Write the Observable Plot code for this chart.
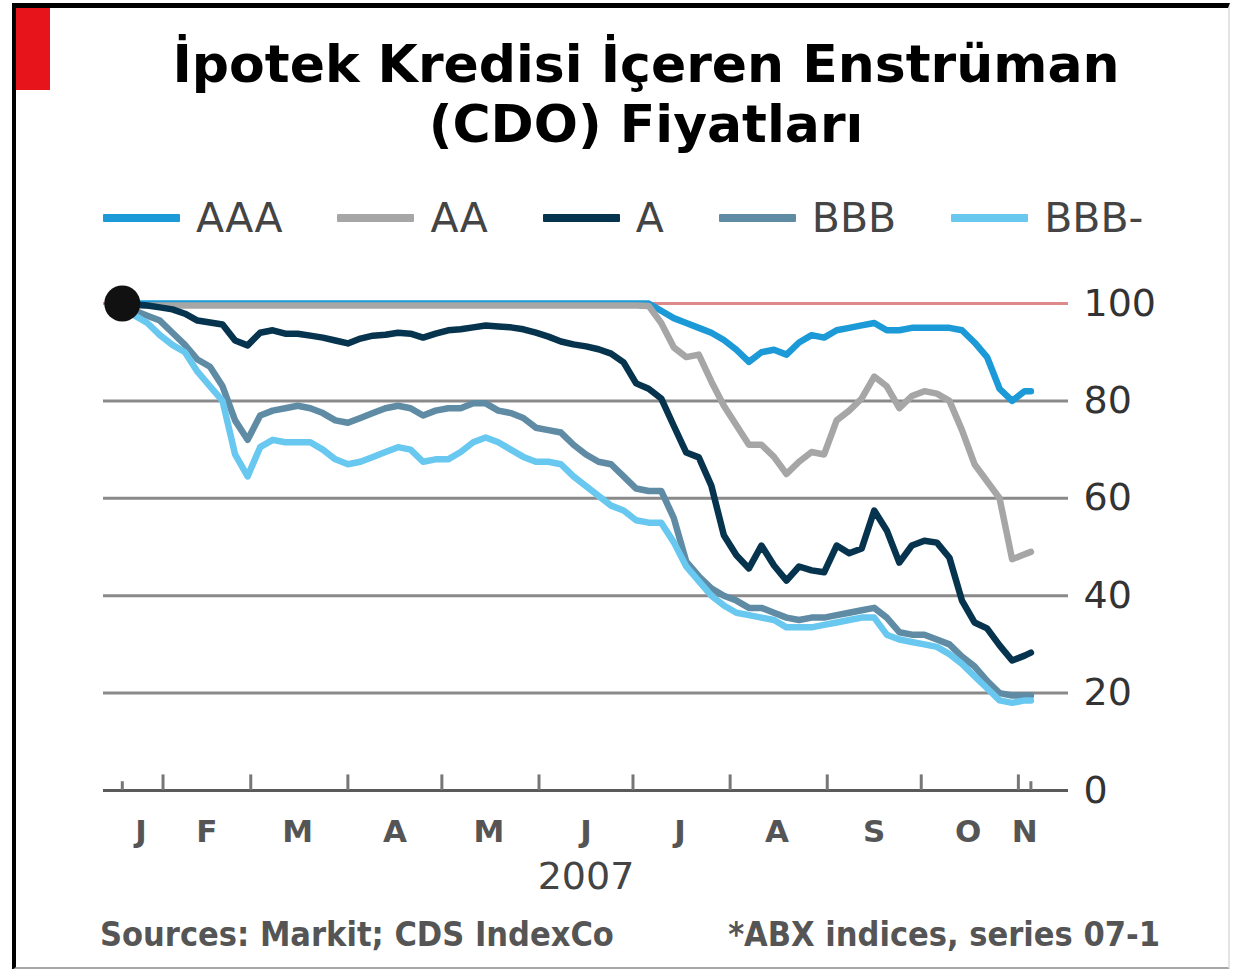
<!DOCTYPE html>
<html><head><meta charset="utf-8">
<script src="https://cdn.jsdelivr.net/npm/d3@7"></script>
<script src="https://cdn.jsdelivr.net/npm/@observablehq/plot@0.6"></script>
<style>
html,body{margin:0;padding:0;background:#fff;}
body{width:1238px;height:969px;position:relative;overflow:hidden;font-family:"DejaVu Sans",sans-serif;}
#frame{position:absolute;left:12px;top:3px;width:1212px;height:959px;border-left:4px solid #000;border-top:5px solid #000;border-right:2px solid #e4e4e4;border-bottom:3px solid #a8a8a8;}
#redbar{position:absolute;left:16px;top:8px;width:34px;height:82px;background:#e8141c;}
#title{position:absolute;left:0;top:34px;width:1292px;text-align:center;font-family:"DejaVu Sans",sans-serif;font-weight:bold;font-size:52px;line-height:60px;color:#000;}
#legend{position:absolute;left:103px;top:193px;height:50px;display:flex;align-items:center;}
.item{display:flex;align-items:center;margin-right:55px;}
.sw{width:77px;height:8px;margin-right:16px;border-radius:1px;}
.lt{font-family:"DejaVu Sans",sans-serif;font-size:41px;line-height:41px;color:#444;}
#chart{position:absolute;left:0;top:260px;}
.src{position:absolute;top:918px;font-family:"Liberation Sans Narrow","DejaVu Sans Condensed",sans-serif;font-weight:bold;font-size:34px;line-height:32px;color:#555;}
</style></head>
<body>
<div id="frame"></div>
<div id="redbar"></div>
<div id="title">İpotek Kredisi İçeren Enstrüman<br>(CDO) Fiyatları</div>
<div id="legend"></div>
<div id="chart"></div>
<div class="src" style="left:100px;">Sources: Markit; CDS IndexCo</div>
<div class="src" style="right:78px;">*ABX indices, series 07-1</div>
<script>
const seriesNames = ["AAA","AA","A","BBB","BBB-"];
const seriesColors = ["#1b9ad7","#a6a6a6","#06334d","#5f8ba5","#68c8ef"];

const dates = ["2007-01-19","2007-01-23","2007-01-27","2007-01-31","2007-02-04","2007-02-08","2007-02-12","2007-02-16","2007-02-20","2007-02-24","2007-02-28",
"2007-03-04","2007-03-08","2007-03-12","2007-03-16","2007-03-20","2007-03-24","2007-03-28","2007-04-01","2007-04-05","2007-04-09","2007-04-13","2007-04-17","2007-04-21","2007-04-25","2007-04-29",
"2007-05-03","2007-05-07","2007-05-11","2007-05-15","2007-05-19","2007-05-23","2007-05-27","2007-05-31","2007-06-04","2007-06-08","2007-06-12","2007-06-16","2007-06-20","2007-06-24","2007-06-28",
"2007-07-02","2007-07-06","2007-07-10","2007-07-14","2007-07-18","2007-07-22","2007-07-26","2007-07-30","2007-08-03","2007-08-07","2007-08-11","2007-08-15","2007-08-19","2007-08-23","2007-08-27","2007-08-31",
"2007-09-04","2007-09-08","2007-09-12","2007-09-16","2007-09-20","2007-09-24","2007-09-28","2007-10-02","2007-10-06","2007-10-10","2007-10-14","2007-10-18","2007-10-22","2007-10-26","2007-10-30","2007-11-03","2007-11-05"];

const aaa = [100,100,100,100,100,100,100,100,100,100,100,
100,100,100,100,100,100,100,100,100,100,100,100,100,100,100,
100,100,100,100,100,100,100,100,100,100,100,100,100,100,100,
100,100,98.5,97,96,95,94,92.5,90.5,88,90,90.5,89.5,92,93.5,93,
94.5,95,95.5,96,94.5,94.5,95,95,95,95,94.5,92,89,82.5,80,82,82];

const aa = [100,99.6,99.6,99.6,99.6,99.6,99.6,99.6,99.6,99.6,99.6,
99.6,99.6,99.6,99.6,99.6,99.6,99.6,99.6,99.6,99.6,99.6,99.6,99.6,99.6,99.6,
99.6,99.6,99.6,99.6,99.6,99.6,99.6,99.6,99.6,99.6,99.6,99.6,99.6,99.6,99.6,
99.6,99.5,96,91,89,89.5,84,79,75,71,71,68.5,65,67.5,69.5,69,
76,78,80.5,85,83,78.5,81,82,81.5,80,74,67,63.5,60,47.5,48.5,49];

const a = [100,99.8,99.6,99.2,98.8,97.9,96.5,96.1,95.7,92.4,91.4,
94.0,94.5,93.8,93.8,93.4,93.0,92.4,91.8,92.8,93.4,93.6,94.0,93.8,93.0,93.8,
94.5,94.7,95.1,95.5,95.3,95.1,94.7,94.0,93.2,92.2,91.6,91.2,90.6,89.7,87.9,
83.6,82.5,80.5,74.9,69.4,68.4,62.6,52.4,48.3,45.6,50.3,46.2,43.1,46.0,45.2,44.8,
50.3,48.7,49.7,57.5,53.4,46.8,50.3,51.3,50.9,47.8,39.0,34.5,33.3,29.8,26.7,27.7,28.3];

const bbb = [100,98.5,97.5,96.5,94,91.5,88.5,87,83,76,72,
77,78,78.5,79,78.5,77.5,76,75.5,76.5,77.5,78.5,79,78.5,77,78,
78.5,78.5,79.5,79.5,78,77.5,76.5,74.5,74,73.5,71,69,67.5,67,64.5,
62,61.5,61.5,56,47,44,41.5,40,39,37.5,37.5,36.5,35.5,35,35.5,35.5,
36,36.5,37,37.5,35.5,32.5,32,32,31,30,27.5,25.5,22.5,20,19.5,19.5,19.5];

const bbbMinus = [100,97.5,96,93.5,91.5,90,86,83,80,69,64.5,
70.5,72,71.5,71.5,71.5,70,68,67,67.5,68.5,69.5,70.5,70,67.5,68,
68,69.5,71.5,72.5,71.5,70,68.5,67.5,67.5,67,64.5,62.5,60.5,58.5,57.5,
55.5,55,55,51,46,43,40,38,36.5,36,35.5,35,33.5,33.5,33.5,34,
34.5,35,35.5,35.5,32,31,30.5,30,29.5,28,26,23.5,21,18.5,18,18.5,18.5];

const yTicks = [0,20,40,60,80,100];
const gridValues = [20,40,60,80];
const monthStarts = ["2007-02-01","2007-03-01","2007-04-01","2007-05-01","2007-06-01","2007-07-01","2007-08-01","2007-09-01","2007-10-01","2007-11-01"];
const endTicks = ["2007-01-19","2007-11-05"];
const labelDates = ["2007-01-25","2007-02-15","2007-03-16","2007-04-16","2007-05-16","2007-06-16","2007-07-16","2007-08-16","2007-09-16","2007-10-16","2007-11-03"];
const monthLetters = ["J","F","M","A","M","J","J","A","S","O","N"];
const yearLabel = "2007";

const valuesBySeries = {"AAA": aaa, "AA": aa, "A": a, "BBB": bbb, "BBB-": bbbMinus};
const drawOrder = ["BBB","BBB-","AAA","AA","A"];
const toDate = s => new Date(s + "T00:00:00Z");

// legend
const leg = document.getElementById("legend");
seriesNames.forEach((n, i) => {
  const it = document.createElement("div"); it.className = "item";
  const sw = document.createElement("div"); sw.className = "sw"; sw.style.background = seriesColors[i];
  const t = document.createElement("span"); t.className = "lt"; t.textContent = n;
  it.appendChild(sw); it.appendChild(t); leg.appendChild(it);
});

const rowsFor = s => dates.map((d, i) => ({series: s, date: toDate(d), value: valuesBySeries[s][i]}));
const labelDateObjs = labelDates.map(toDate);

const chart = Plot.plot({
  width: 1238,
  height: 640,
  marginLeft: 103,
  marginRight: 170,
  marginTop: 43,
  marginBottom: 110,
  style: {fontFamily: "DejaVu Sans, sans-serif", background: "transparent", overflow: "visible"},
  x: {type: "utc", domain: [toDate("2007-01-13"), toDate("2007-11-17")]},
  y: {domain: [0, 100]},
  color: {domain: seriesNames, range: seriesColors},
  marks: [
    Plot.ruleY(gridValues, {stroke: "#8a8a8a", strokeWidth: 3}),
    Plot.ruleY([100], {stroke: "#de8a8a", strokeWidth: 3}),
    Plot.ruleY([0], {stroke: "#5a5a5a", strokeWidth: 3}),
    Plot.ruleX(monthStarts.map(toDate), {x: d => d, y1: 0, y2: 3.2, stroke: "#777", strokeWidth: 3}),
    Plot.ruleX(endTicks.map(toDate), {x: d => d, y1: 0, y2: 1.8, stroke: "#777", strokeWidth: 3}),
    ...drawOrder.map(s => Plot.line(rowsFor(s), {x: "date", y: "value", stroke: "series", strokeWidth: 6.5, strokeLinejoin: "round", strokeLinecap: "round"})),
    Plot.dot([{date: toDate(dates[0]), value: a[0]}], {x: "date", y: "value", r: 18, fill: "#111"}),
    Plot.axisY(yTicks, {anchor: "right", tickSize: 0, tickPadding: 15, fontSize: 38, fill: "#333", label: null}),
    Plot.axisX(labelDateObjs, {anchor: "bottom", tickSize: 0, tickPadding: 29, fontSize: 31, fontWeight: "bold", fill: "#555", label: null,
      tickFormat: d => monthLetters[labelDateObjs.findIndex(x => +x === +d)]}),
    Plot.text([yearLabel], {text: d => d, frameAnchor: "bottom", dy: 72, lineAnchor: "top", fontSize: 38, fill: "#444"})
  ]
});
document.getElementById("chart").appendChild(chart);
</script>
</body></html>
